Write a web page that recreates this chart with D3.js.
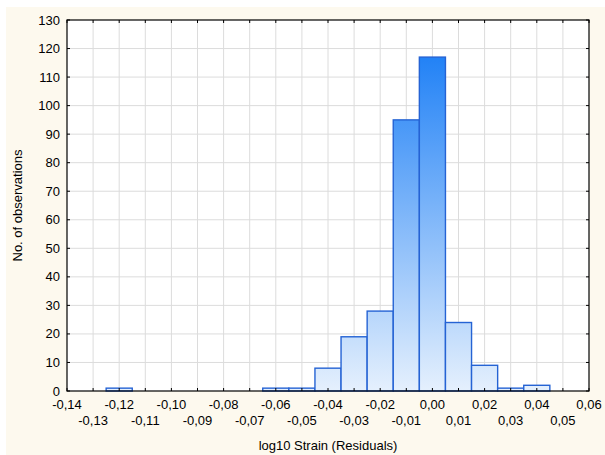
<!DOCTYPE html>
<html>
<head>
<meta charset="utf-8">
<script src="https://cdn.jsdelivr.net/npm/d3@7"></script>
<style>
  body { margin: 0; background: #fff; }
  svg text { font-family: "Liberation Sans", Arial, sans-serif; fill: #000; }
</style>
</head>
<body>
<div id="chart"></div>
<script>
// Data: bin centres (log10 strain residuals) and counts
const binCenters = [-0.13, -0.12, -0.11, -0.10, -0.09, -0.08, -0.07, -0.06, -0.05, -0.04,
  -0.03, -0.02, -0.01, 0.00, 0.01, 0.02, 0.03, 0.04, 0.05];
const counts = [0, 1, 0, 0, 0, 0, 0, 1, 1, 8, 19, 28, 95, 117, 24, 9, 1, 2, 0];
const binWidth = 0.01;
const xTicks = d3.range(-14, 7).map(d => d / 100);
const yTicks = d3.range(0, 140, 10);

const WIDTH = 605;
const HEIGHT = 455;
const margin = { top: 20, right: 16, bottom: 64, left: 67 };

const svg = d3.select("#chart")
  .append("svg")
  .attr("width", WIDTH)
  .attr("height", HEIGHT);

// cream background
svg.append("rect")
  .attr("x", 6).attr("y", 7)
  .attr("width", WIDTH - 6).attr("height", HEIGHT - 7)
  .attr("fill", "#fdf9ee");

const x = d3.scaleLinear()
  .domain([-0.14, 0.06])
  .range([margin.left, WIDTH - margin.right]);

const y = d3.scaleLinear()
  .domain([0, 130])
  .range([HEIGHT - margin.bottom, margin.top]);

const fmt = d => d3.format(".2f")(d).replace("−", "-").replace(".", ",");

// plot area
svg.append("rect")
  .attr("x", x(-0.14)).attr("y", y(130))
  .attr("width", x(0.06) - x(-0.14))
  .attr("height", y(0) - y(130))
  .attr("fill", "#fff");

// grid
svg.append("g")
  .selectAll("line")
  .data(xTicks.slice(1, -1))
  .join("line")
  .attr("x1", d => x(d)).attr("x2", d => x(d))
  .attr("y1", y(0)).attr("y2", y(130))
  .attr("stroke", "#dcdcdc");

svg.append("g")
  .selectAll("line")
  .data(yTicks.slice(1, -1))
  .join("line")
  .attr("x1", x(-0.14)).attr("x2", x(0.06))
  .attr("y1", d => y(d)).attr("y2", d => y(d))
  .attr("stroke", "#dcdcdc");

// gradient for bars (depends on height in plot)
const grad = svg.append("defs").append("linearGradient")
  .attr("id", "barFill")
  .attr("gradientUnits", "userSpaceOnUse")
  .attr("x1", 0).attr("x2", 0)
  .attr("y1", y(0)).attr("y2", y(117));
grad.append("stop").attr("offset", "0%").attr("stop-color", "#e5f0fd");
grad.append("stop").attr("offset", "100%").attr("stop-color", "#2282f6");

// bars
svg.append("g")
  .selectAll("rect")
  .data(binCenters.map((c, i) => ({ c, n: counts[i] })))
  .join("rect")
  .attr("x", d => x(d.c - binWidth / 2))
  .attr("width", d => x(d.c + binWidth / 2) - x(d.c - binWidth / 2))
  .attr("y", d => y(d.n))
  .attr("height", d => y(0) - y(d.n))
  .attr("fill", "url(#barFill)")
  .attr("stroke", "#2563d4")
  .attr("stroke-width", 1.4);

// frame
svg.append("rect")
  .attr("x", x(-0.14)).attr("y", y(130))
  .attr("width", x(0.06) - x(-0.14))
  .attr("height", y(0) - y(130))
  .attr("fill", "none")
  .attr("stroke", "#000")
  .attr("stroke-width", 1.2);

// inward ticks on all four sides
const tickLen = 3;
const tickG = svg.append("g").attr("stroke", "#000");
xTicks.forEach(t => {
  tickG.append("line").attr("x1", x(t)).attr("x2", x(t)).attr("y1", y(0)).attr("y2", y(0) - tickLen);
  tickG.append("line").attr("x1", x(t)).attr("x2", x(t)).attr("y1", y(130)).attr("y2", y(130) + tickLen);
});
yTicks.forEach(t => {
  tickG.append("line").attr("x1", x(-0.14)).attr("x2", x(-0.14) + tickLen).attr("y1", y(t)).attr("y2", y(t));
  tickG.append("line").attr("x1", x(0.06)).attr("x2", x(0.06) - tickLen).attr("y1", y(t)).attr("y2", y(t));
});

// x tick labels, staggered in two rows
svg.append("g")
  .selectAll("text")
  .data(xTicks)
  .join("text")
  .attr("x", d => x(d))
  .attr("y", (d, i) => i % 2 === 0 ? y(0) + 18 : y(0) + 34)
  .attr("text-anchor", "middle")
  .style("font-size", "13px")
  .text(fmt);

// y tick labels
svg.append("g")
  .selectAll("text")
  .data(yTicks)
  .join("text")
  .attr("x", x(-0.14) - 7)
  .attr("y", d => y(d))
  .attr("dy", "0.35em")
  .attr("text-anchor", "end")
  .style("font-size", "13px")
  .text(d => d);

// axis titles
svg.append("text")
  .attr("x", (x(-0.14) + x(0.06)) / 2)
  .attr("y", 450)
  .attr("text-anchor", "middle")
  .style("font-size", "13px")
  .text("log10 Strain (Residuals)");

svg.append("text")
  .attr("transform", `translate(22, ${(y(0) + y(130)) / 2}) rotate(-90)`)
  .attr("text-anchor", "middle")
  .style("font-size", "13px")
  .text("No. of observations");
</script>
</body>
</html>
